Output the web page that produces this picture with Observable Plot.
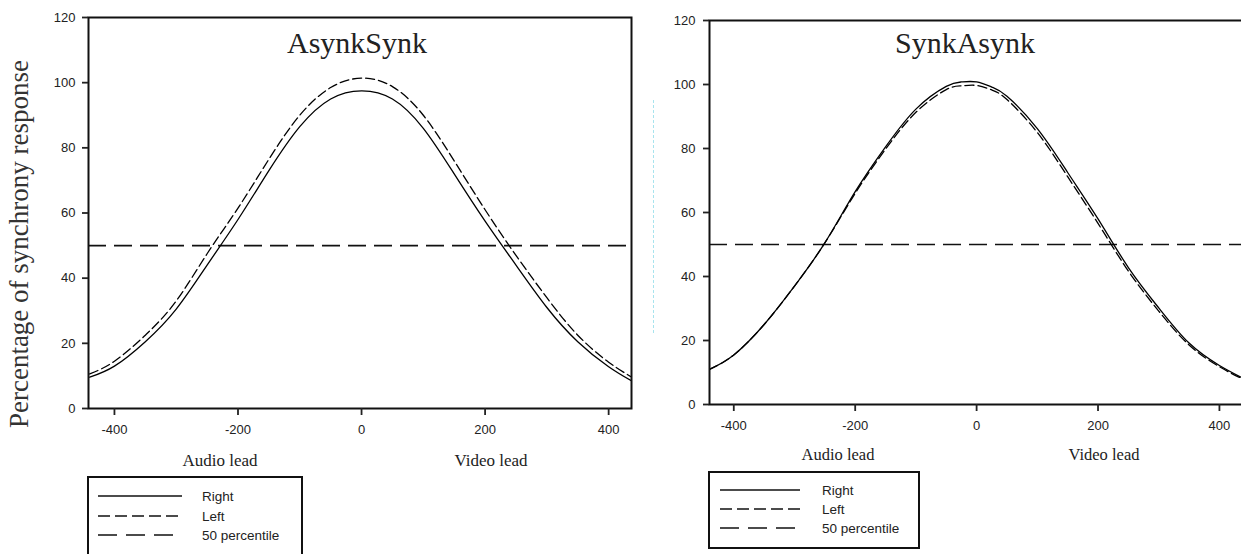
<!DOCTYPE html>
<html>
<head>
<meta charset="utf-8">
<script src="https://cdn.jsdelivr.net/npm/d3@7"></script>
<script src="https://cdn.jsdelivr.net/npm/@observablehq/plot@0.6"></script>
<style>
  html, body { margin: 0; padding: 0; background: #fff; overflow: hidden; }
  #wrap { position: relative; width: 1241px; height: 554px; overflow: hidden; background: #fff; }
  .abs { position: absolute; white-space: nowrap; }
  .serif { font-family: "Liberation Serif", "Times New Roman", serif; color: #222; line-height: 1; }
  .title { font-size: 30px; transform: translateX(-50%); }
  .xlab { font-size: 17px; transform: translateX(-50%); }
</style>
</head>
<body>
<div id="wrap"></div>
<script>
// ---------- data ----------
const xTicks = [-400, -200, 0, 200, 400];
const yTicks = [0, 20, 40, 60, 80, 100, 120];
const threshold = [50];

// Left panel: AsynkSynk
const asX     = [-440, -400, -350, -300, -250, -200, -150, -100, -50, 0, 50, 100, 150, 200, 250, 300, 350, 400, 436];
const asRight = [9.6, 13, 20.5, 30.5, 44, 58, 73, 86.5, 95, 97.5, 95, 86, 72, 57.5, 44, 31, 20.5, 12.8, 8.6];
const asLeft  = [10.6, 14.5, 22.5, 33, 47.5, 61.5, 76.5, 90, 98.5, 101.4, 98.8, 90, 76, 61, 47, 34, 22.5, 14.2, 9.8];

// Right panel: SynkAsynk
const saX     = [-440, -400, -350, -300, -250, -200, -150, -100, -50, -25, 0, 25, 50, 100, 150, 200, 250, 300, 350, 400, 438];
const saRight = [11, 15.5, 25, 37, 50.5, 66.5, 80.5, 92.3, 99.4, 100.8, 100.8, 99.2, 96.3, 86.2, 72.5, 58, 42.8, 30.2, 19.2, 12.2, 8.3];
const saLeft  = [11, 15.5, 25, 37, 50.5, 66, 79.8, 91.3, 98.4, 99.6, 99.7, 98.3, 95.3, 85, 71.2, 56.6, 41.7, 29.2, 18.6, 11.8, 8];

const titles = ["AsynkSynk", "SynkAsynk"];
const xLabels = ["Audio lead", "Video lead"];
const yLabel = "Percentage of synchrony response";
const legendItems = ["Right", "Left", "50 percentile"];

// ---------- helpers ----------
const wrap = document.getElementById("wrap");
function rows(xs, ys) { return xs.map((x, i) => ({x, y: ys[i]})); }

function panel({xs, right, left, xDomain, width, height, mL, mR, mT, mB, yPad}) {
  return Plot.plot({
    width, height,
    marginLeft: mL, marginRight: mR, marginTop: mT, marginBottom: mB,
    style: {background: "transparent", fontFamily: "'Liberation Sans', Arial, sans-serif", fontSize: "13px", color: "#222"},
    x: {domain: xDomain},
    y: {domain: [0, 120]},
    marks: [
      Plot.ruleY(threshold, {stroke: "#111", strokeWidth: 1.6, strokeDasharray: "18,8"}),
      Plot.line(rows(xs, right), {x: "x", y: "y", stroke: "#000", strokeWidth: 1.3, curve: "natural", clip: true}),
      Plot.line(rows(xs, left), {x: "x", y: "y", stroke: "#000", strokeWidth: 1.3, strokeDasharray: "9,4", curve: "natural", clip: true}),
      Plot.frame({stroke: "#111", strokeWidth: 2}),
      Plot.axisX({ticks: xTicks, tickSize: 7, tickPadding: 9, label: null, strokeWidth: 1.8, tickFormat: d => String(d)}),
      Plot.axisY({ticks: yTicks, tickSize: 6, tickPadding: yPad, label: null, strokeWidth: 1.8, tickFormat: d => String(d)})
    ]
  });
}

function place(node, left, top) {
  node.style.position = "absolute";
  node.style.left = left + "px";
  node.style.top = top + "px";
  wrap.appendChild(node);
}
function addText(cls, text, left, top, extra) {
  const d = document.createElement("div");
  d.className = "abs " + cls;
  d.textContent = text;
  d.style.left = left + "px";
  d.style.top = top + "px";
  if (extra) Object.assign(d.style, extra);
  wrap.appendChild(d);
  return d;
}

try {
  const p1 = panel({xs: asX, right: asRight, left: asLeft, xDomain: [-442, 437],
    width: 640, height: 480, mL: 88, mR: 9, mT: 17, mB: 72, yPad: 7});
  place(p1, 0, 0);

  const p2 = panel({xs: saX, right: saRight, left: saLeft, xDomain: [-440, 438],
    width: 602, height: 480, mL: 69, mR: 0, mT: 20, mB: 76, yPad: 8});
  place(p2, 640, 0);

  // titles
  addText("serif title", titles[0], 357, 28);
  addText("serif title", titles[1], 965, 28);

  // x-axis labels
  addText("serif xlab", xLabels[0], 220, 452);
  addText("serif xlab", xLabels[1], 491, 452);
  addText("serif xlab", xLabels[0], 838, 447, {fontSize: "16.5px"});
  addText("serif xlab", xLabels[1], 1104, 447, {fontSize: "16.5px"});

  // y label (left panel)
  addText("serif", yLabel, 19, 244, {fontSize: "27px", color: "#333",
    transform: "translate(-50%, -50%) rotate(-90deg)"});

  // faint dotted guide in the gap
  const g = document.createElement("div");
  Object.assign(g.style, {position: "absolute", left: "653px", top: "100px", height: "233px",
    borderLeft: "1px dashed #a8e4ee"});
  wrap.appendChild(g);

  // legends
  const dashes = [null, "12,5", "19,9"];
  const ns = "http://www.w3.org/2000/svg";
  const svg = document.createElementNS(ns, "svg");
  svg.setAttribute("width", 1241); svg.setAttribute("height", 554);
  Object.assign(svg.style, {position: "absolute", left: 0, top: 0, pointerEvents: "none"});
  function legend(bx, by, bw, bh, lx1, lx2, tx, ys) {
    const r = document.createElementNS(ns, "rect");
    r.setAttribute("x", bx); r.setAttribute("y", by); r.setAttribute("width", bw); r.setAttribute("height", bh);
    r.setAttribute("fill", "none"); r.setAttribute("stroke", "#111"); r.setAttribute("stroke-width", 2);
    svg.appendChild(r);
    legendItems.forEach((name, i) => {
      const l = document.createElementNS(ns, "line");
      l.setAttribute("x1", lx1); l.setAttribute("x2", lx2);
      l.setAttribute("y1", ys[i]); l.setAttribute("y2", ys[i]);
      l.setAttribute("stroke", "#111"); l.setAttribute("stroke-width", 1.6);
      if (dashes[i]) l.setAttribute("stroke-dasharray", dashes[i]);
      svg.appendChild(l);
      const t = document.createElementNS(ns, "text");
      t.setAttribute("x", tx); t.setAttribute("y", ys[i]);
      t.setAttribute("dominant-baseline", "central");
      t.setAttribute("font-family", "'Liberation Sans', Arial, sans-serif");
      t.setAttribute("font-size", "13.5");
      t.setAttribute("fill", "#222");
      t.textContent = name;
      svg.appendChild(t);
    });
  }
  legend(88, 477, 214, 100, 98, 182, 202, [496, 516, 535]);
  legend(709, 472, 210, 76, 720, 800, 822, [490, 509, 528]);
  wrap.appendChild(svg);
} catch (e) {
  const pre = document.createElement("pre");
  pre.textContent = String(e && e.stack || e);
  document.body.appendChild(pre);
}
</script>
</body>
</html>
